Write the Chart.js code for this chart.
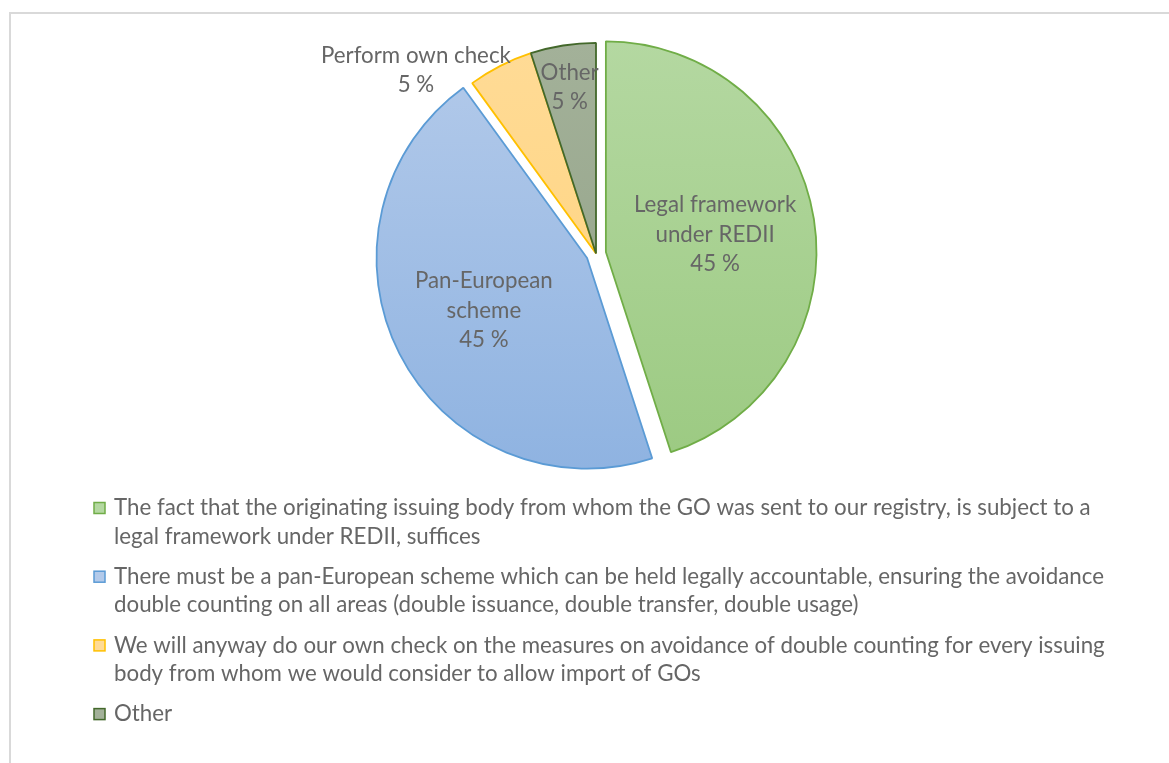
<!DOCTYPE html>
<html>
<head>
<meta charset="utf-8">
<script src="https://cdn.jsdelivr.net/npm/chart.js@4.4.1/dist/chart.umd.min.js"></script>
<style>
  html, body { margin: 0; padding: 0; background: #fff; }
  body { width: 1169px; height: 763px; position: relative; overflow: hidden; }
  #frame { position: absolute; left: 9px; top: 12px; width: 1200px; height: 800px;
           border: 2px solid #d9d9d9; box-sizing: border-box; }
  #wrap { position: absolute; left: 0; top: 0; width: 1169px; height: 763px; }
</style>
</head>
<body>
<div id="frame"></div>
<div id="wrap"><canvas id="c" width="1169" height="763"></canvas></div>
<script>
// Survey answers (legend text, already broken into lines)
const categories = [
  ['The fact that the originating issuing body from whom the GO was sent to our registry, is subject to a',
   'legal framework under REDII, suffices'],
  ['There must be a pan-European scheme which can be held legally accountable, ensuring the avoidance',
   'double counting on all areas (double issuance, double transfer, double usage)'],
  ['We will anyway do our own check on the measures on avoidance of double counting for every issuing',
   'body from whom we would consider to allow import of GOs'],
  ['Other']
];
// Short names printed on the slices
const sliceNames = [
  ['Legal framework', 'under REDII'],
  ['Pan-European', 'scheme'],
  ['Perform own check'],
  ['Other']
];
// Share of answers, percent
const shares = [45, 45, 5, 5];

// Styling
const fillTop    = ['#b4d8a1', '#b3caea', '#ffdb96', '#a3b199'];
const fillBottom = ['#9cca82', '#8fb3e1', '#ffd27a', '#91a186'];
const borderColors = ['#70ad47', '#5b9bd5', '#ffc000', '#43682b'];
const explode = [10, 10, 0, 0];
// label anchor: fraction of radius from the slice tip, and angular shift (deg)
const labelPlace = [
  { r: 0.525, shift: 0 },
  { r: 0.55, shift: 0 },
  { r: 1.22, shift: -17.5 },
  { r: 0.80, shift: 0 }
];
const FONT = '"Lato", "Liberation Sans", sans-serif';
const FONT_SIZE = 22.3;
const TEXT_COLOR = '#666666';

// Vertical gradient per slice, spanning the pie's box
function sliceFill(c) {
  const i = c.dataIndex || 0;
  const chart = c.chart;
  const area = chart.chartArea;
  if (!area) return fillTop[i];
  const g = chart.ctx.createLinearGradient(0, area.top, 0, area.bottom);
  g.addColorStop(0, fillTop[i]);
  g.addColorStop(1, fillBottom[i]);
  return g;
}

// Draws each arc pushed out along its bisector without resizing it
const explodedSlices = {
  id: 'explodedSlices',
  beforeDatasetDraw(chart, args) {
    const ctx = chart.ctx;
    args.meta.data.forEach((arc, i) => {
      const d = explode[i] || 0;
      const mid = (arc.startAngle + arc.endAngle) / 2;
      ctx.save();
      ctx.translate(Math.cos(mid) * d, Math.sin(mid) * d);
      arc.draw(ctx);
      ctx.restore();
    });
    return false;
  }
};

// Slice name + percentage
const sliceLabels = {
  id: 'sliceLabels',
  afterDatasetsDraw(chart) {
    const ctx = chart.ctx;
    const meta = chart.getDatasetMeta(0);
    ctx.save();
    ctx.font = FONT_SIZE + 'px ' + FONT;
    ctx.fillStyle = TEXT_COLOR;
    ctx.textAlign = 'center';
    ctx.textBaseline = 'middle';
    const lh = 29.5;
    meta.data.forEach((arc, i) => {
      const mid = (arc.startAngle + arc.endAngle) / 2;
      const d = explode[i] || 0;
      const bx = arc.x + Math.cos(mid) * d;
      const by = arc.y + Math.sin(mid) * d;
      const a = mid + labelPlace[i].shift * Math.PI / 180;
      const rr = labelPlace[i].r * arc.outerRadius;
      const px = bx + Math.cos(a) * rr;
      const py = by + Math.sin(a) * rr;
      const value = chart.data.datasets[0].data[i];
      const lines = sliceNames[i].concat([value + ' %']);
      const y0 = py - (lines.length - 1) * lh / 2;
      lines.forEach((t, k) => ctx.fillText(t, px, y0 + k * lh));
    });
    ctx.restore();
  }
};

// Legend below the pie, with wrapped entries
const wrappedLegend = {
  id: 'wrappedLegend',
  afterDraw(chart) {
    const ctx = chart.ctx;
    const boxX = 94, box = 11, textX = 114;
    const firstY = 508, lineH = 28.5, itemStep = 68.7;
    ctx.save();
    ctx.font = FONT_SIZE + 'px ' + FONT;
    ctx.textAlign = 'left';
    ctx.textBaseline = 'middle';
    let y = firstY;
    categories.forEach((lines, i) => {
      ctx.fillStyle = fillTop[i];
      ctx.fillRect(boxX, y - box / 2, box, box);
      ctx.strokeStyle = borderColors[i];
      ctx.lineWidth = 1.5;
      ctx.strokeRect(boxX, y - box / 2, box, box);
      ctx.fillStyle = TEXT_COLOR;
      lines.forEach((t, k) => ctx.fillText(t, textX, y + k * lineH));
      y += itemStep;
    });
    ctx.restore();
  }
};

new Chart(document.getElementById('c'), {
  type: 'pie',
  data: {
    labels: sliceNames.map(n => n.join(' ')),
    datasets: [{
      data: shares,
      backgroundColor: sliceFill,
      borderColor: borderColors,
      borderWidth: 1.8
    }]
  },
  options: {
    responsive: false,
    devicePixelRatio: 1,
    animation: false,
    events: [],
    layout: { padding: { top: 42, bottom: 298, left: 100, right: 77 } },
    plugins: {
      legend: { display: false },
      tooltip: { enabled: false },
      title: { display: false }
    }
  },
  plugins: [explodedSlices, sliceLabels, wrappedLegend]
});
</script>
</body>
</html>
